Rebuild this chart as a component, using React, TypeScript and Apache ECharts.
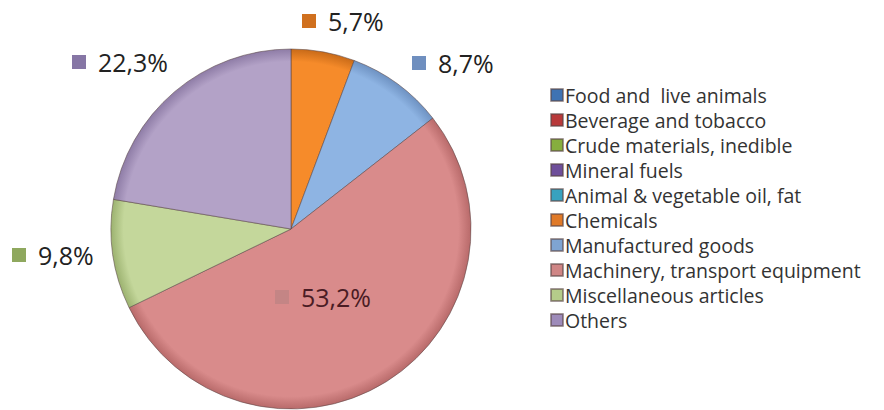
import React, { useEffect, useRef } from "react";
import * as echarts from "echarts";

const categories = [
  "Food and  live animals",
  "Beverage and tobacco",
  "Crude materials, inedible",
  "Mineral fuels",
  "Animal & vegetable oil, fat",
  "Chemicals",
  "Manufactured goods",
  "Machinery, transport equipment",
  "Miscellaneous articles",
  "Others",
];
const shares = [0, 0, 0, 0, 0, 5.7, 8.7, 53.2, 9.8, 22.3];

const sliceColors = [
  "#4F81BD",
  "#C0504D",
  "#9BBB59",
  "#8064A2",
  "#4BACC6",
  "#F68B2A",
  "#8EB4E3",
  "#D98B8B",
  "#C4D79B",
  "#B3A2C7",
];
const edgeColors = [
  "#3A6396",
  "#963B39",
  "#768F42",
  "#5F4A7A",
  "#35869C",
  "#C86A18",
  "#6E92C2",
  "#B86A6A",
  "#9CB270",
  "#8E7CA6",
];
const markerColors = [
  "#3A6396",
  "#963B39",
  "#768F42",
  "#5F4A7A",
  "#35869C",
  "#D0701E",
  "#6F8FBF",
  "#C48585",
  "#8FA85E",
  "#8676A5",
];
const legendColors = [
  "#3F73B3",
  "#B8393A",
  "#86AE3E",
  "#6E4E9A",
  "#38A2BF",
  "#E07A28",
  "#7FA4D2",
  "#CF8585",
  "#B5CC8A",
  "#9E8BBA",
];
const labelTextColors = ["#222", "#222", "#222", "#222", "#222", "#222", "#222", "#4A1C24", "#222", "#222"];
// label anchor (left edge of marker, vertical middle)
const labelAnchors: Array<[number, number] | null> = [
  null,
  null,
  null,
  null,
  null,
  [302, 21],
  [412, 63],
  [275, 297],
  [12, 255],
  [72, 62],
];

const CX = 291;
const CY = 229;
const R = 180;

export default function App() {
  const ref = useRef<HTMLDivElement>(null);
  useEffect(() => {
    if (!ref.current) return;
    const chart = echarts.init(ref.current, undefined, { renderer: "svg" });
    const data = categories.map((name, i) => ({
      name,
      value: shares[i],
      itemStyle: {
        color: {
          type: "radial",
          x: CX,
          y: CY,
          r: R,
          global: true,
          colorStops: [
            { offset: 0, color: sliceColors[i] },
            { offset: 0.93, color: sliceColors[i] },
            { offset: 1, color: edgeColors[i] },
          ],
        },
      },
      label: {
        show: shares[i] > 0,
        rich: {
          sq: { width: 14, height: 14, backgroundColor: markerColors[i] },
          v: { fontSize: 25, color: labelTextColors[i], padding: [0, 0, 0, 12], fontFamily: "Open Sans" },
        },
      },
    }));
    chart.setOption({
      animation: false,
      backgroundColor: "#ffffff",
      legend: {
        orient: "vertical",
        left: 545,
        top: 80,
        itemWidth: 12,
        itemHeight: 12,
        itemGap: 5,
        icon: "rect",
        selectedMode: false,
        textStyle: {
          fontFamily: "Open Sans",
          fontSize: 19.5,
          lineHeight: 20,
          color: "#333333",
          padding: [0, 0, 0, -3],
        },
        data: categories.map((name, i) => ({ name, itemStyle: { color: legendColors[i] } })),
      },
      series: [
        {
          type: "pie",
          center: [CX, CY],
          radius: R,
          startAngle: 90,
          clockwise: true,
          avoidLabelOverlap: false,
          silent: true,
          itemStyle: { borderColor: "rgba(90,70,70,0.55)", borderWidth: 1 },
          label: {
            position: "outside",
            formatter: (p: any) => "{sq|}{v|" + p.value.toFixed(1).replace(".", ",") + "%}",
          },
          labelLine: { show: false },
          labelLayout: (p: any) => {
            const a = labelAnchors[p.dataIndex];
            if (!a) return {};
            return { x: a[0], y: a[1], align: "left", verticalAlign: "middle" };
          },
          data,
        },
      ],
    });
    return () => chart.dispose();
  }, []);
  return (
    <div
      ref={ref}
      style={{ position: "fixed", left: 0, top: 0, width: 884, height: 410 }}
    />
  );
}
